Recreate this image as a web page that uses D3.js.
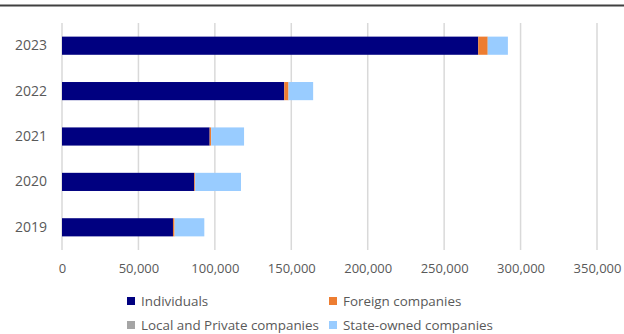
<!DOCTYPE html>
<html>
<head>
<meta charset="utf-8">
<script src="https://cdn.jsdelivr.net/npm/d3@7"></script>
<style>
  html, body { margin: 0; padding: 0; background: #fff; }
  svg { display: block; }
  text { font-family: "Open Sans", "Liberation Sans", sans-serif; fill: #595959; }
</style>
</head>
<body>
<script>
// Registered owners by year, stacked by owner type
const years = ["2023", "2022", "2021", "2020", "2019"];
const seriesNames = ["Individuals", "Foreign companies", "Local and Private companies", "State-owned companies"];
const seriesColors = ["#000080", "#ED7D31", "#A5A5A5", "#99CCFF"];
const individuals = [272300, 145400, 96600, 86500, 72600];
const foreign = [6100, 2700, 900, 500, 1000];
const localPrivate = [300, 200, 100, 100, 100];
const stateOwned = [13000, 16000, 21500, 30000, 19400];
const xTicks = [0, 50000, 100000, 150000, 200000, 250000, 300000, 350000];

const W = 624, H = 334;
const margin = { top: 23, right: 27, bottom: 84, left: 62 };

const rows = years.map((y, i) => ({
  year: y,
  "Individuals": individuals[i],
  "Foreign companies": foreign[i],
  "Local and Private companies": localPrivate[i],
  "State-owned companies": stateOwned[i]
}));

const svg = d3.select("body").append("svg").attr("width", W).attr("height", H);

// frame line across the top
svg.append("line")
  .attr("x1", 0).attr("x2", W).attr("y1", 5.5).attr("y2", 5.5)
  .attr("stroke", "#404040").attr("stroke-width", 2);

const x = d3.scaleLinear().domain([0, 350000]).range([margin.left, W - margin.right]);
const y = d3.scaleBand().domain(years).range([margin.top, H - margin.bottom]).paddingInner(0.6).paddingOuter(0.3);

// vertical gridlines
svg.append("g").selectAll("line").data(xTicks).join("line")
  .attr("x1", d => x(d)).attr("x2", d => x(d))
  .attr("y1", margin.top).attr("y2", H - margin.bottom)
  .attr("stroke", "#d9d9d9").attr("stroke-width", 1.5);

const stack = d3.stack().keys(seriesNames);
const layers = stack(rows);

svg.append("g").selectAll("g").data(layers).join("g")
  .attr("fill", (d, i) => seriesColors[i])
  .selectAll("rect").data(d => d).join("rect")
  .attr("x", d => x(d[0]))
  .attr("width", d => x(d[1]) - x(d[0]))
  .attr("y", d => y(d.data.year))
  .attr("height", y.bandwidth());

// x axis labels
const xAxis = d3.axisBottom(x).tickValues(xTicks).tickSize(0).tickPadding(0)
  .tickFormat(d3.format(","));
const gx = svg.append("g").attr("transform", `translate(0,${H - margin.bottom + 14})`).call(xAxis);
gx.select(".domain").remove();
gx.selectAll("text").attr("font-size", 13).attr("fill", "#595959")
  .attr("font-family", "'Open Sans', sans-serif");

// y axis labels
const yAxis = d3.axisLeft(y).tickSize(0).tickPadding(15);
const gy = svg.append("g").attr("transform", `translate(${margin.left},0)`).call(yAxis);
gy.select(".domain").remove();
gy.selectAll("text").attr("font-size", 14).attr("fill", "#595959")
  .attr("font-family", "'Open Sans', sans-serif");

// legend, two columns
const legendPos = [[127, 301], [329, 301], [127, 325], [329, 325]];
const lg = svg.append("g").selectAll("g").data(seriesNames).join("g")
  .attr("transform", (d, i) => `translate(${legendPos[i][0]},${legendPos[i][1]})`);
lg.append("rect").attr("x", 0).attr("y", -4).attr("width", 8).attr("height", 8)
  .attr("fill", (d, i) => seriesColors[i]);
lg.append("text").attr("x", 14).attr("y", 0).attr("dy", "0.35em")
  .attr("font-size", 13.4).text(d => d);
</script>
</body>
</html>
